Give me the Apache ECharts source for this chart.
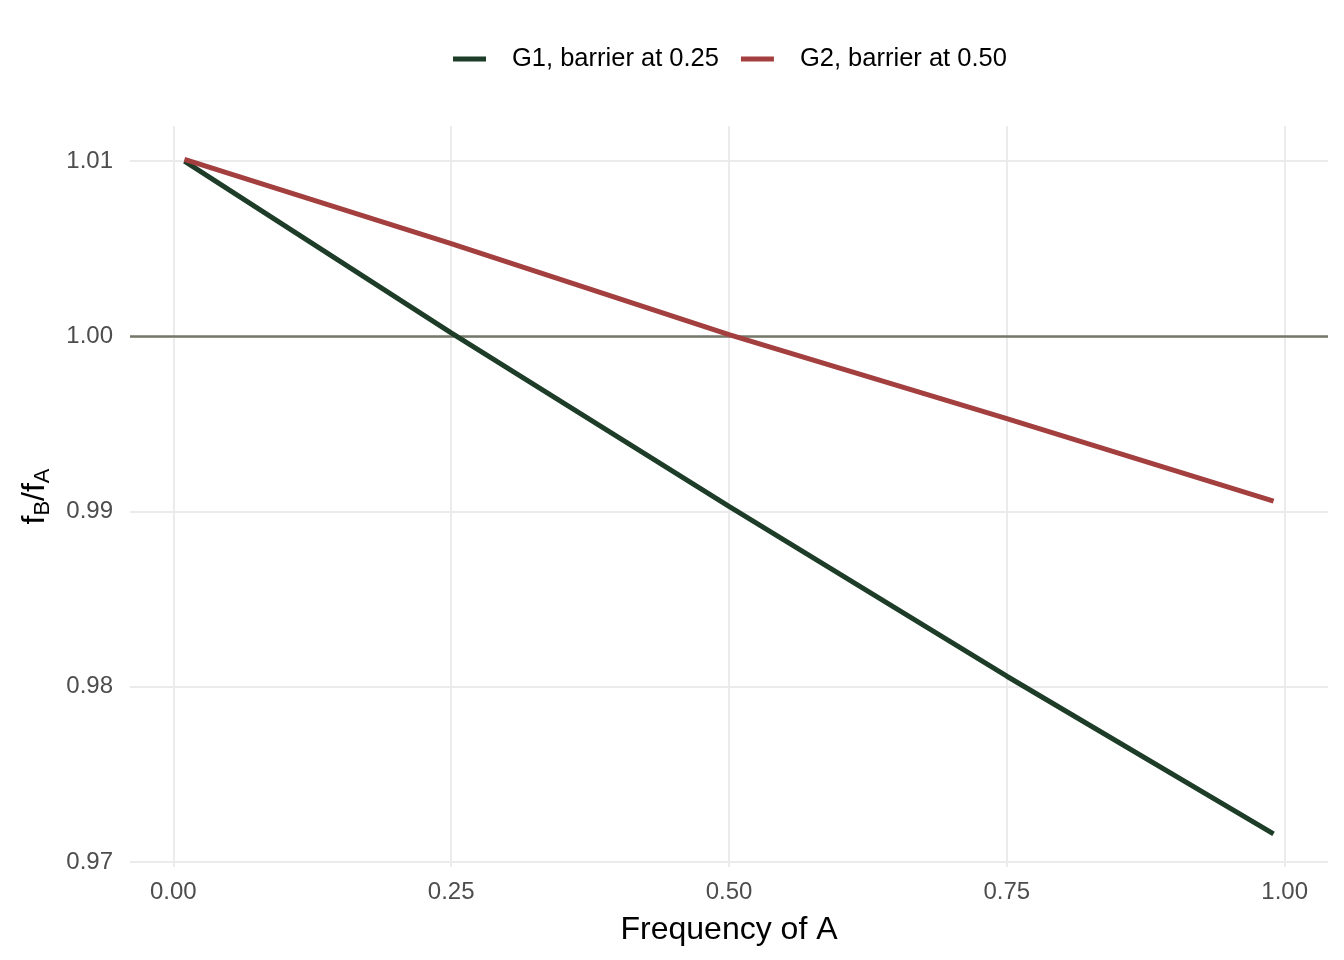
<!DOCTYPE html>
<html>
<head>
<meta charset="utf-8">
<script src="https://cdn.jsdelivr.net/npm/echarts@6/dist/echarts.min.js"></script>
<style>
  html, body { margin: 0; padding: 0; background: #fff; }
  #chart { width: 1344px; height: 960px; }
</style>
</head>
<body>
<div id="chart"></div>
<script>
// values
const freqA = [0.01, 0.25, 0.50, 0.75, 0.99];
const g1 = [1.0100, 1.0002, 0.9903, 0.9806, 0.9716];
const g2 = [1.0101, 1.0053, 1.0001, 0.9953, 0.9906];
const xTicks = [0, 0.25, 0.5, 0.75, 1];
const yTicks = [0.97, 0.98, 0.99, 1.00, 1.01];
const seriesNames = ['G1, barrier at 0.25', 'G2, barrier at 0.50'];

const font = 'Liberation Sans, Arial, Helvetica, sans-serif';
const gridColor = '#ebebeb';

const chart = echarts.init(document.getElementById('chart'));

const toPairs = (xs, ys) => xs.map((x, i) => [x, ys[i]]);

const option = {
  backgroundColor: '#fff',
  animation: false,
  textStyle: { fontFamily: font },
  legend: {
    top: 41,
    left: 448,
    itemWidth: 33,
    itemHeight: 5,
    itemGap: 22,
    icon: 'rect',
    textStyle: { fontSize: 25.5, color: '#000', fontFamily: font, padding: [0, 0, 0, 21] },
    data: seriesNames
  },
  grid: { left: 130, right: 16, top: 126, bottom: 93 },
  xAxis: {
    type: 'value',
    min: -0.039,
    max: 1.039,
    name: 'Frequency of A',
    nameLocation: 'middle',
    nameGap: 47,
    nameTextStyle: { fontSize: 32, color: '#000', fontFamily: font },
    axisLine: { show: false },
    axisTick: { show: false, customValues: xTicks },
    axisLabel: {
      customValues: xTicks,
      margin: 13,
      fontSize: 24,
      color: '#4d4d4d',
      formatter: v => v.toFixed(2)
    },
    splitLine: { show: true, lineStyle: { color: gridColor, width: 2 } }
  },
  yAxis: {
    type: 'value',
    min: 0.96971,
    max: 1.01201,
    name: '{f|f}{s|B}{f|/f}{s|A}',
    nameLocation: 'middle',
    nameRotate: 90,
    nameGap: 76,
    nameTextStyle: {
      rich: {
        f: { fontSize: 32, color: '#000', fontFamily: font },
        s: { fontSize: 22, color: '#000', fontFamily: font, verticalAlign: 'bottom', padding: [16, 0, 0, 0] }
      }
    },
    axisLine: { show: false },
    axisTick: { show: false, customValues: yTicks },
    axisLabel: {
      customValues: yTicks,
      margin: 17,
      fontSize: 24,
      color: '#4d4d4d',
      formatter: v => v.toFixed(2)
    },
    splitLine: { show: true, lineStyle: { color: gridColor, width: 2 } }
  },
  series: [
    {
      name: seriesNames[0],
      type: 'line',
      data: toPairs(freqA, g1),
      showSymbol: false,
      color: '#1e3d28',
      lineStyle: { width: 5, color: '#1e3d28' },
      z: 3,
      markLine: {
        silent: true,
        symbol: 'none',
        label: { show: false },
        lineStyle: { color: '#737868', width: 2.5, type: 'solid' },
        data: [{ yAxis: 1 }],
        z: 2
      }
    },
    {
      name: seriesNames[1],
      type: 'line',
      data: toPairs(freqA, g2),
      showSymbol: false,
      color: '#a33f3f',
      lineStyle: { width: 5, color: '#a33f3f' },
      z: 4
    }
  ]
};

chart.setOption(option);
</script>
</body>
</html>
